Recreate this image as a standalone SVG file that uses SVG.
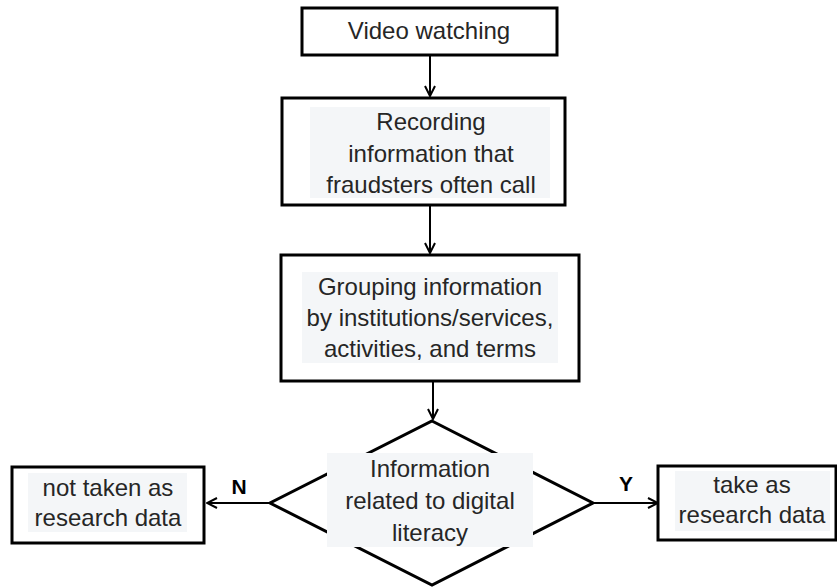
<svg xmlns="http://www.w3.org/2000/svg" width="837" height="588" viewBox="0 0 837 588">
  <style>
    .box { fill: #ffffff; stroke: #000000; stroke-width: 3; }
    .tbg { fill: #f4f6f8; }
    .lbl { font-family: "Liberation Sans", Arial, sans-serif; font-size: 24px; fill: #262626; text-anchor: middle; }
    .yn { font-family: "Liberation Sans", Arial, sans-serif; font-size: 21px; font-weight: bold; fill: #000000; text-anchor: middle; }
    .conn { stroke: #000000; stroke-width: 2; fill: none; }
  </style>
  <defs>
    <marker id="arrow" viewBox="0 0 12 12" refX="11" refY="6" markerWidth="12" markerHeight="12" markerUnits="userSpaceOnUse" orient="auto">
      <path d="M1,1 L11,6 L1,11" fill="none" stroke="#000000" stroke-width="2"/>
    </marker>
  </defs>

  <rect width="837" height="588" fill="#ffffff"/>

  <g id="connectors">
    <line class="conn" x1="430" y1="55" x2="430" y2="96" marker-end="url(#arrow)"/>
    <line class="conn" x1="430" y1="205" x2="430" y2="253" marker-end="url(#arrow)"/>
    <line class="conn" x1="433" y1="381" x2="433" y2="419" marker-end="url(#arrow)"/>
    <line class="conn" x1="270" y1="503" x2="207" y2="503" marker-end="url(#arrow)"/>
    <line class="conn" x1="593" y1="503" x2="658" y2="503" marker-end="url(#arrow)"/>
    <text class="yn" x="239" y="494">N</text>
    <text class="yn" x="626" y="491">Y</text>
  </g>

  <g id="video-watching">
    <rect class="box" x="302" y="8" width="255" height="47"/>
    <text class="lbl" x="429" y="39">Video watching</text>
  </g>

  <g id="recording">
    <rect class="box" x="282" y="98" width="283" height="107"/>
    <rect class="tbg" x="310" y="107" width="240" height="91"/>
    <text class="lbl" x="431" y="130">Recording</text>
    <text class="lbl" x="431" y="162">information that</text>
    <text class="lbl" x="431" y="193">fraudsters often call</text>
  </g>

  <g id="grouping">
    <rect class="box" x="281" y="255" width="298" height="126"/>
    <rect class="tbg" x="302" y="272" width="256" height="91"/>
    <text class="lbl" x="430" y="295">Grouping information</text>
    <text class="lbl" x="430" y="326">by institutions/services,</text>
    <text class="lbl" x="430" y="357">activities, and terms</text>
  </g>

  <g id="decision">
    <polygon class="box" points="432,421 593,503 432,585 270,503"/>
    <rect class="tbg" x="327" y="453" width="206" height="94"/>
    <text class="lbl" x="430" y="477">Information</text>
    <text class="lbl" x="430" y="509">related to digital</text>
    <text class="lbl" x="430" y="541">literacy</text>
  </g>

  <g id="not-taken">
    <rect class="box" x="12" y="467" width="192" height="76"/>
    <rect class="tbg" x="28" y="473" width="159" height="59"/>
    <text class="lbl" x="108" y="496">not taken as</text>
    <text class="lbl" x="108" y="526">research data</text>
  </g>

  <g id="take">
    <rect class="box" x="658" y="466" width="178" height="74"/>
    <rect class="tbg" x="675" y="471" width="155" height="60"/>
    <text class="lbl" x="752" y="493">take as</text>
    <text class="lbl" x="752" y="523">research data</text>
  </g>
</svg>
